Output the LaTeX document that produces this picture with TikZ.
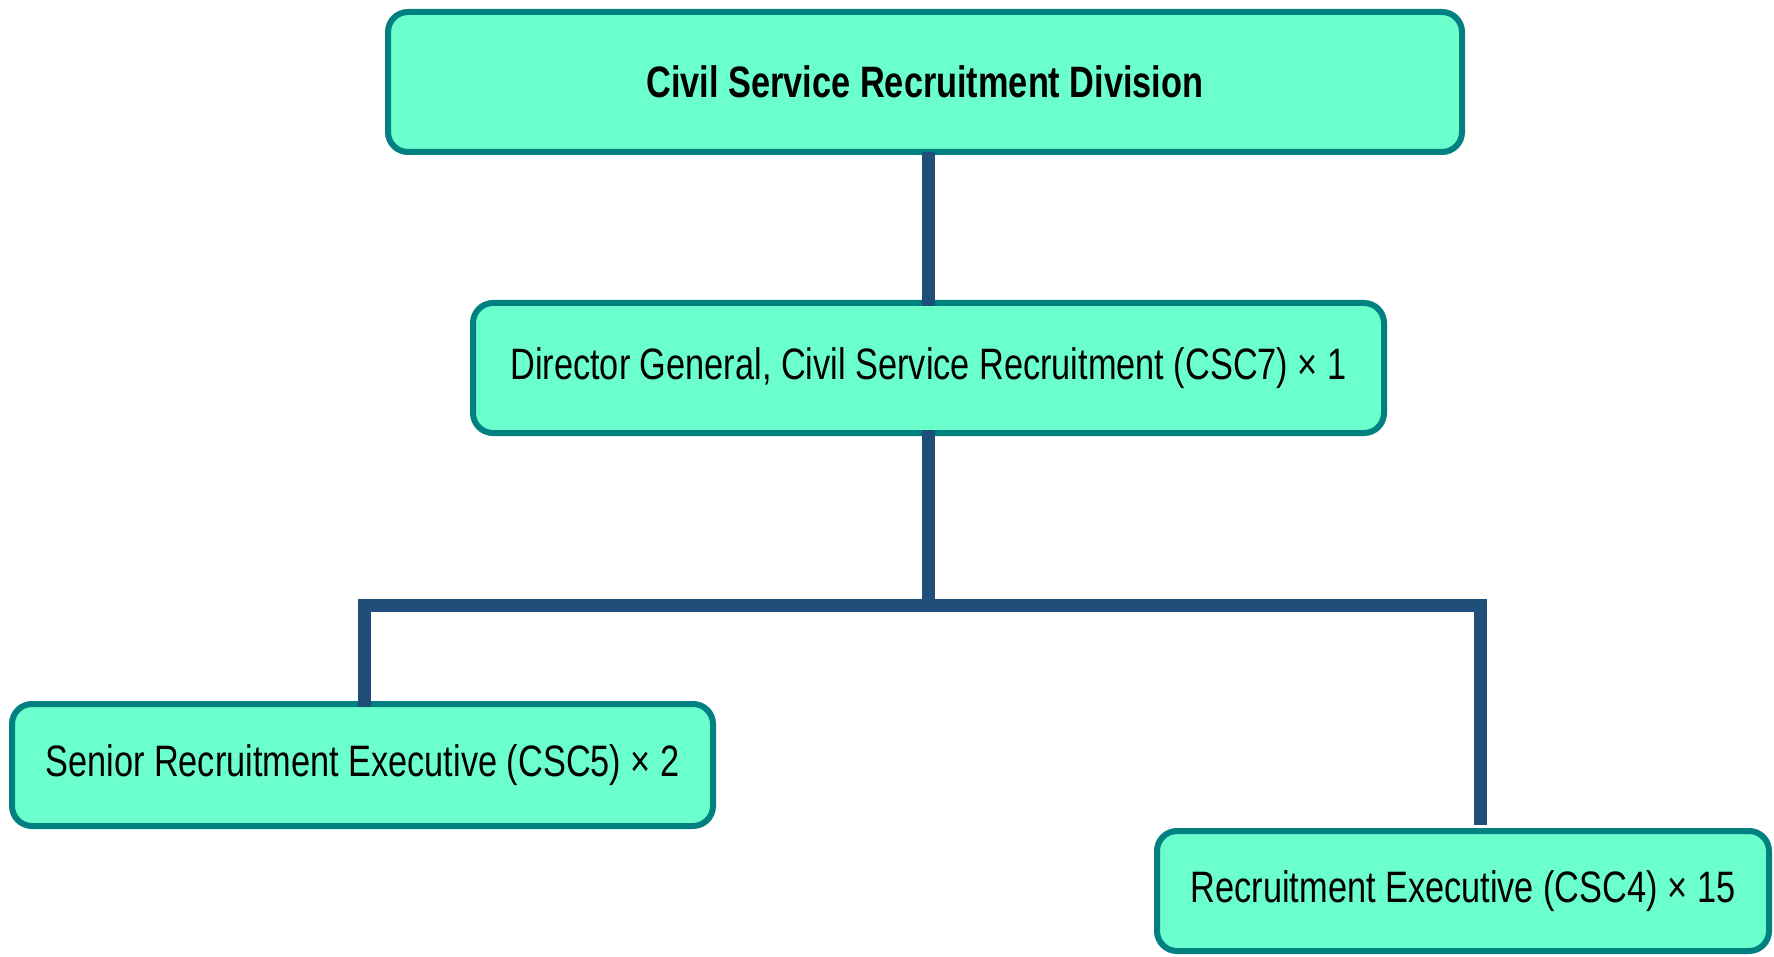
\documentclass[tikz,border=0pt]{standalone}
\usepackage{fontspec}
\setmainfont{Liberation Sans}[FakeStretch=0.78]
\definecolor{boxfill}{HTML}{6AFFCC}
\definecolor{boxline}{HTML}{008080}
\definecolor{connline}{HTML}{1F4E79}
\begin{document}
\begin{tikzpicture}[x=1pt,y=-1pt,
  orgbox/.style={draw=boxline,fill=boxfill,line width=6pt,rounded corners=20pt,
    inner sep=0pt,outer sep=0pt,font=\fontsize{44}{50}\selectfont,text=black},
  conn/.style={draw=connline,line width=13pt,line join=miter}]
\useasboundingbox (0,0) rectangle (1774,957);
\node[orgbox,minimum width=1074pt,minimum height=140pt] (top) at (925,82) {\bfseries Civil Service Recruitment Division};
\node[orgbox,minimum width=911pt,minimum height=130pt] (mid) at (928.5,368) {Director General, Civil Service Recruitment (CSC7) × 1};
\node[orgbox,minimum width=701pt,minimum height=122pt] (left) at (362.5,765) {Senior Recruitment Executive (CSC5) × 2};
\node[orgbox,minimum width=612pt,minimum height=120pt] (right) at (1463,891) {Recruitment Executive (CSC4) × 15};
\coordinate (bl) at (364,605);
\coordinate (br) at (1480,605);
\coordinate (rt) at (1480,825);
\draw[conn] (top.south -| mid.north) -- ([yshift=-3pt]mid.north);
\draw[conn] ([yshift=3pt]mid.south) -- (mid.south |- bl);
\draw[conn] ([yshift=-3pt]left.north -| bl) -- (bl) -- (br) -- (rt);
\end{tikzpicture}
\end{document}
